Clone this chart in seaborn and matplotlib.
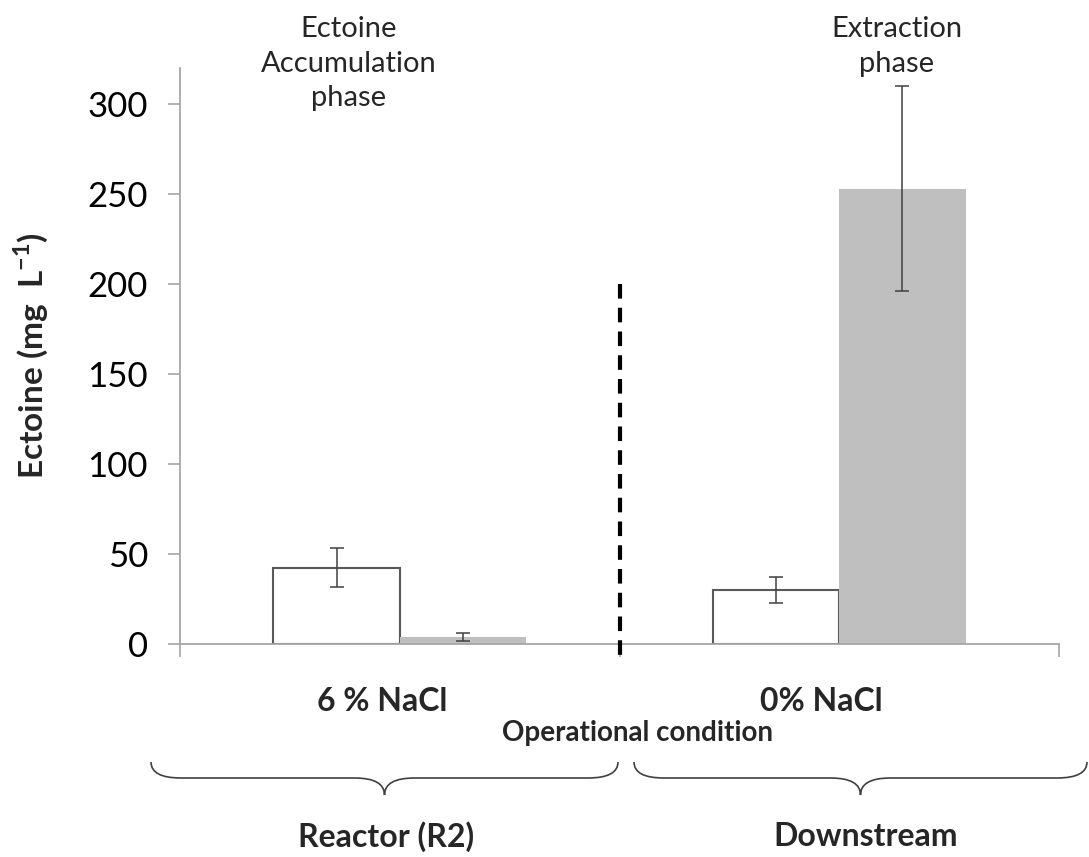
import numpy as np
import pandas as pd
import matplotlib
matplotlib.use("Agg")
import matplotlib.pyplot as plt
from matplotlib.path import Path
from matplotlib.patches import PathPatch
import seaborn as sns

# values
conditions = ['6 % NaCl', '0% NaCl']
series = ['intracellular', 'extracellular']
white_vals = [42.5, 30.0]
white_err = [10.8, 7.3]
gray_vals = [4.0, 253.0]
gray_err = [2.3, 57.0]
y_ticks = [0, 50, 100, 150, 200, 250, 300]

sns.set_theme(style='white')
plt.rcParams['font.family'] = ['Lato', 'DejaVu Sans']

df = pd.DataFrame({
    'condition': conditions * 2,
    'series': [series[0]] * 2 + [series[1]] * 2,
    'value': white_vals + gray_vals,
})

W, H = 1089, 857
fig = plt.figure(figsize=(W / 100, H / 100), dpi=100)
ax = fig.add_axes([180 / W, 1 - 644 / H, (1059 - 180) / W, (644 - 68) / H])

sns.barplot(data=df, x='condition', y='value', hue='series', order=conditions,
            hue_order=series, palette=['white', '#bfbfbf'], width=0.575,
            legend=False, errorbar=None, saturation=1, ax=ax)

# edges: outlined white bars, plain gray bars
for cont, ec, lw in zip(ax.containers, ['#595959', '#bfbfbf'], [1.5, 0]):
    for p in cont:
        p.set_edgecolor(ec)
        p.set_linewidth(lw)

# custom error bars
for cont, vals, errs in zip(ax.containers, [white_vals, gray_vals], [white_err, gray_err]):
    xs = [p.get_x() + p.get_width() / 2 for p in cont]
    ax.errorbar(xs, vals, yerr=errs, fmt='none', ecolor='#404040',
                elinewidth=1.1, capsize=5, capthick=1.1, zorder=5)

ax.set_xlim(-0.5, 1.5)
ax.set_ylim(0, 320)
ax.set_yticks(y_ticks)
ax.tick_params(axis='y', which='major', left=True, length=9, width=1.2,
               color='#a6a6a6', labelsize=25, pad=14, labelcolor='black')
# Excel puts the category labels a little left of the group centres
ax.set_xticks([-0.04, 0.96])
ax.set_xticklabels(conditions, fontsize=23, fontweight='bold')
ax.set_xticks([-0.5, 0.5, 1.5], minor=True)
ax.tick_params(axis='x', which='major', length=0, pad=31)
ax.tick_params(axis='x', which='minor', bottom=True, length=9, width=1.2,
               color='#a6a6a6')
ax.set_xlabel('')
ax.set_ylabel('Ectoine (mg  L$^{\\mathregular{-1}}$)', fontsize=24, fontweight='bold')
ax.yaxis.set_label_coords(-0.148, 0.5)

for s in ['top', 'right']:
    ax.spines[s].set_visible(False)
for s in ['left', 'bottom']:
    ax.spines[s].set_color('#a6a6a6')
    ax.spines[s].set_linewidth(1.3)

# dashed separator
ax.plot([0.5, 0.5], [200, -7], color='black', lw=3, linestyle=(0, (3.5, 2.2)),
        clip_on=False, zorder=6)

# phase annotations
ax.text(-0.116, 322.5, 'Ectoine\nAccumulation\nphase', ha='center', va='center',
        fontsize=21, linespacing=1.4, clip_on=False)
ax.text(1.131, 332, 'Extraction\nphase', ha='center', va='center',
        fontsize=21, linespacing=1.4, clip_on=False)

fig.text(638 / W, 1 - 733 / H, 'Operational condition', ha='center', va='center',
         fontsize=20, fontweight='bold')


def brace(x0, x1, top, mid, tip):
    xc = (x0 + x1) / 2
    r = 30
    pts = [(x0, top), (x0, mid), (x0 + r, mid), (xc - r, mid),
           (xc, mid), (xc, tip), (xc, mid), (xc + r, mid),
           (x1 - r, mid), (x1, mid), (x1, top)]
    pts = [(px / W, 1 - py / H) for px, py in pts]
    codes = [Path.MOVETO, Path.CURVE3, Path.CURVE3, Path.LINETO,
             Path.CURVE3, Path.CURVE3, Path.CURVE3, Path.CURVE3,
             Path.LINETO, Path.CURVE3, Path.CURVE3]
    fig.patches.append(PathPatch(Path(pts, codes), transform=fig.transFigure,
                                 fill=False, edgecolor='#404040', lw=1.2))


brace(151, 618, 762, 778, 795)
brace(634, 1087, 762, 778, 795)

fig.text(386 / W, 1 - 837 / H, 'Reactor (R2)', ha='center', va='center',
         fontsize=23, fontweight='bold')
fig.text(866 / W, 1 - 837 / H, 'Downstream', ha='center', va='center',
         fontsize=23, fontweight='bold')

fig.savefig('out.png', dpi=100)
